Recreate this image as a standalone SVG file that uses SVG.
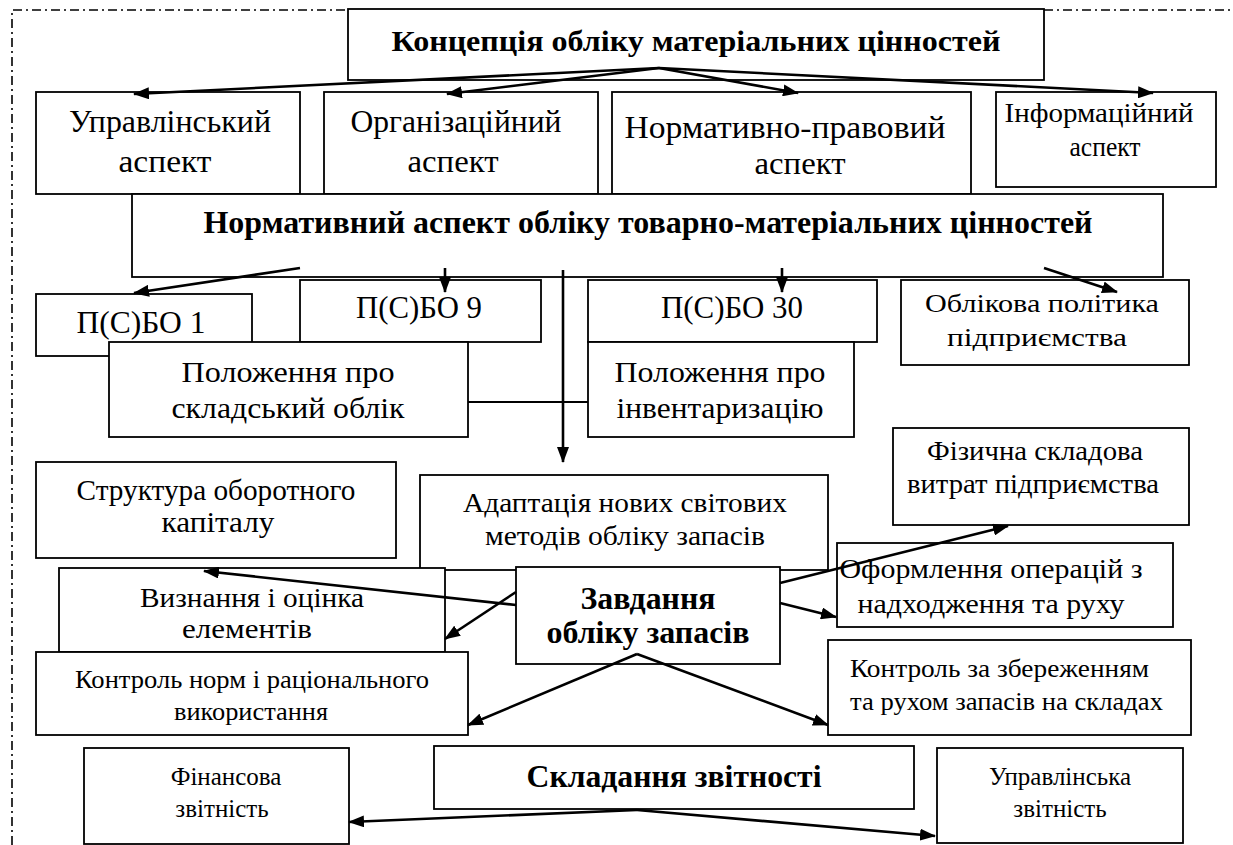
<svg xmlns="http://www.w3.org/2000/svg" width="1233" height="845" viewBox="0 0 1233 845">
<style>
  .box{fill:#fff;stroke:#000;stroke-width:1.8}
  .t{font-family:"Liberation Serif","Times New Roman",serif;fill:#000;text-anchor:middle}
  .b{font-weight:bold}
  .l{text-anchor:start}
  .arr{stroke:#000;stroke-width:2.6;fill:none;marker-end:url(#ah)}
  .ln{stroke:#000;stroke-width:1.8;fill:none}
  .frame{stroke:#000;stroke-width:1.6;fill:none;stroke-dasharray:9 4 2 4}
</style>
<defs>
  <marker id="ah" viewBox="0 0 16 12" refX="15" refY="6" markerWidth="16" markerHeight="12" markerUnits="userSpaceOnUse" orient="auto">
    <path d="M0,0 L16,6 L0,12 z" fill="#000"/>
  </marker>
</defs>
<g id="frame">
  <path class="frame" d="M12,845 L12,10 L348,10"/>
  <path class="frame" d="M1044,10 L1233,10"/>
</g>
<g id="n-title">
  <rect class="box" x="348" y="9" width="696" height="71"/>
  <text class="t b" x="696" y="51" font-size="30" textLength="609" lengthAdjust="spacingAndGlyphs">Концепція обліку матеріальних цінностей</text>
</g>
<g id="n-upr">
  <rect class="box" x="36" y="92" width="264" height="102"/>
  <text class="t" x="170" y="132" font-size="31" textLength="202" lengthAdjust="spacingAndGlyphs">Управлінський</text>
  <text class="t" x="165" y="172" font-size="31" textLength="93" lengthAdjust="spacingAndGlyphs">аспект</text>
</g>
<g id="n-org">
  <rect class="box" x="324" y="92" width="274" height="102"/>
  <text class="t" x="456" y="132" font-size="31" textLength="211" lengthAdjust="spacingAndGlyphs">Організаційний</text>
  <text class="t" x="453" y="172" font-size="31" textLength="91" lengthAdjust="spacingAndGlyphs">аспект</text>
</g>
<g id="n-norm-prav">
  <rect class="box" x="612" y="92" width="359" height="102"/>
  <text class="t" x="785" y="138" font-size="31" textLength="321" lengthAdjust="spacingAndGlyphs">Нормативно-правовий</text>
  <text class="t" x="800" y="174" font-size="31" textLength="91" lengthAdjust="spacingAndGlyphs">аспект</text>
</g>
<g id="n-info">
  <rect class="box" x="996" y="92" width="220" height="95"/>
  <text class="t" x="1099" y="122" font-size="27" textLength="189" lengthAdjust="spacingAndGlyphs">Інформаційний</text>
  <text class="t" x="1105" y="156" font-size="27" textLength="71" lengthAdjust="spacingAndGlyphs">аспект</text>
</g>
<g id="n-normasp">
  <rect class="box" x="132" y="194" width="1031" height="83"/>
  <text class="t b" x="648" y="233" font-size="31" textLength="889" lengthAdjust="spacingAndGlyphs">Нормативний аспект обліку товарно-матеріальних цінностей</text>
</g>
<g id="n-psbo1">
  <rect class="box" x="36" y="294" width="216" height="62"/>
  <text class="t" x="141" y="333" font-size="31" textLength="129" lengthAdjust="spacingAndGlyphs">П(С)БО 1</text>
</g>
<g id="n-psbo9">
  <rect class="box" x="300" y="280" width="241" height="62"/>
  <text class="t" x="419" y="318" font-size="31" textLength="126" lengthAdjust="spacingAndGlyphs">П(С)БО 9</text>
</g>
<g id="n-psbo30">
  <rect class="box" x="588" y="280" width="289" height="62"/>
  <text class="t" x="732" y="318" font-size="31" textLength="142" lengthAdjust="spacingAndGlyphs">П(С)БО 30</text>
</g>
<g id="n-oblik-pol">
  <rect class="box" x="901" y="280" width="288" height="85"/>
  <text class="t" x="1042" y="312" font-size="26" textLength="234" lengthAdjust="spacingAndGlyphs">Облікова політика</text>
  <text class="t" x="1037" y="346" font-size="26" textLength="180" lengthAdjust="spacingAndGlyphs">підприємства</text>
</g>
<g id="n-skl">
  <rect class="box" x="109" y="342" width="359" height="95"/>
  <text class="t" x="288" y="382" font-size="29" textLength="213" lengthAdjust="spacingAndGlyphs">Положення про</text>
  <text class="t" x="288" y="418" font-size="29" textLength="233" lengthAdjust="spacingAndGlyphs">складський облік</text>
</g>
<g id="n-inv">
  <rect class="box" x="588" y="342" width="266" height="95"/>
  <text class="t" x="720" y="382" font-size="29" textLength="211" lengthAdjust="spacingAndGlyphs">Положення про</text>
  <text class="t" x="720" y="418" font-size="29" textLength="207" lengthAdjust="spacingAndGlyphs">інвентаризацію</text>
</g>
<g id="n-struct">
  <rect class="box" x="36" y="462" width="360" height="96"/>
  <text class="t" x="216" y="500" font-size="29" textLength="279" lengthAdjust="spacingAndGlyphs">Структура оборотного</text>
  <text class="t" x="218" y="532" font-size="29" textLength="113" lengthAdjust="spacingAndGlyphs">капіталу</text>
</g>
<g id="n-fiz">
  <rect class="box" x="893" y="428" width="296" height="97"/>
  <text class="t" x="1035" y="460" font-size="27" textLength="216" lengthAdjust="spacingAndGlyphs">Фізична складова</text>
  <text class="t" x="1033" y="493" font-size="27" textLength="252" lengthAdjust="spacingAndGlyphs">витрат підприємства</text>
</g>
<g id="n-adapt">
  <rect class="box" x="420" y="475" width="408" height="95"/>
  <text class="t" x="625" y="512" font-size="28" textLength="324" lengthAdjust="spacingAndGlyphs">Адаптація нових світових</text>
  <text class="t" x="625" y="545" font-size="28" textLength="280" lengthAdjust="spacingAndGlyphs">методів обліку запасів</text>
</g>
<g id="n-vyzn">
  <rect class="box" x="59" y="568" width="386" height="84"/>
  <text class="t" x="252" y="607" font-size="28" textLength="224" lengthAdjust="spacingAndGlyphs">Визнання і оцінка</text>
  <text class="t" x="247" y="638" font-size="28" textLength="130" lengthAdjust="spacingAndGlyphs">елементів</text>
</g>
<g id="n-oform">
  <rect class="box" x="837" y="543" width="336" height="84"/>
  <text class="t" x="991" y="578" font-size="27" textLength="303" lengthAdjust="spacingAndGlyphs">Оформлення операцій з</text>
  <text class="t" x="991" y="613" font-size="27" textLength="267" lengthAdjust="spacingAndGlyphs">надходження та руху</text>
</g>
<g id="n-zavd">
  <rect class="box" x="516" y="567" width="264" height="97"/>
  <text class="t b" x="648" y="609" font-size="31" textLength="135" lengthAdjust="spacingAndGlyphs">Завдання</text>
  <text class="t b" x="648" y="643" font-size="31" textLength="203" lengthAdjust="spacingAndGlyphs">обліку запасів</text>
</g>
<g id="n-kontr-norm">
  <rect class="box" x="36" y="652" width="432" height="83"/>
  <text class="t" x="252" y="688" font-size="26" textLength="354" lengthAdjust="spacingAndGlyphs">Контроль норм і раціонального</text>
  <text class="t" x="251" y="720" font-size="26" textLength="154" lengthAdjust="spacingAndGlyphs">використання</text>
</g>
<g id="n-kontr-zber">
  <rect class="box" x="828" y="640" width="363" height="95"/>
  <text class="t l" x="850" y="677" font-size="26" textLength="299" lengthAdjust="spacingAndGlyphs">Контроль за збереженням</text>
  <text class="t l" x="850" y="710" font-size="26" textLength="313" lengthAdjust="spacingAndGlyphs">та рухом запасів на складах</text>
</g>
<g id="n-fin">
  <rect class="box" x="84" y="748" width="265" height="96"/>
  <text class="t" x="226" y="785" font-size="25">Фінансова</text>
  <text class="t" x="222" y="817" font-size="25">звітність</text>
</g>
<g id="n-sklad">
  <rect class="box" x="434" y="746" width="480" height="63"/>
  <text class="t b" x="674" y="787" font-size="31" textLength="295" lengthAdjust="spacingAndGlyphs">Складання звітності</text>
</g>
<g id="n-upr-zvit">
  <rect class="box" x="937" y="748" width="246" height="95"/>
  <text class="t" x="1060" y="785" font-size="25">Управлінська</text>
  <text class="t" x="1060" y="817" font-size="25">звітність</text>
</g>
<g id="connectors">
  <line class="arr" x1="659" y1="68" x2="134" y2="94"/>
  <line class="arr" x1="659" y1="68" x2="447" y2="94"/>
  <line class="arr" x1="659" y1="68" x2="798" y2="93"/>
  <line class="arr" x1="659" y1="68" x2="1153" y2="93"/>
  <line class="arr" x1="300" y1="268" x2="134" y2="293"/>
  <line class="arr" x1="445" y1="268" x2="445" y2="292"/>
  <line class="arr" x1="782" y1="268" x2="782" y2="292"/>
  <line class="arr" x1="1044" y1="268" x2="1117" y2="292"/>
  <line class="arr" x1="563" y1="270" x2="563" y2="462"/>
  <line class="ln" x1="468" y1="402" x2="588" y2="402"/>
  <line class="arr" x1="516" y1="605" x2="204" y2="571"/>
  <line class="arr" x1="516" y1="592" x2="445" y2="639"/>
  <line class="arr" x1="780" y1="583" x2="1008" y2="526"/>
  <line class="arr" x1="780" y1="603" x2="836" y2="617"/>
  <line class="arr" x1="637" y1="654" x2="468" y2="725"/>
  <line class="arr" x1="637" y1="654" x2="828" y2="725"/>
  <line class="arr" x1="637" y1="810" x2="349" y2="822"/>
  <line class="arr" x1="637" y1="810" x2="935" y2="836"/>
</g>
</svg>
